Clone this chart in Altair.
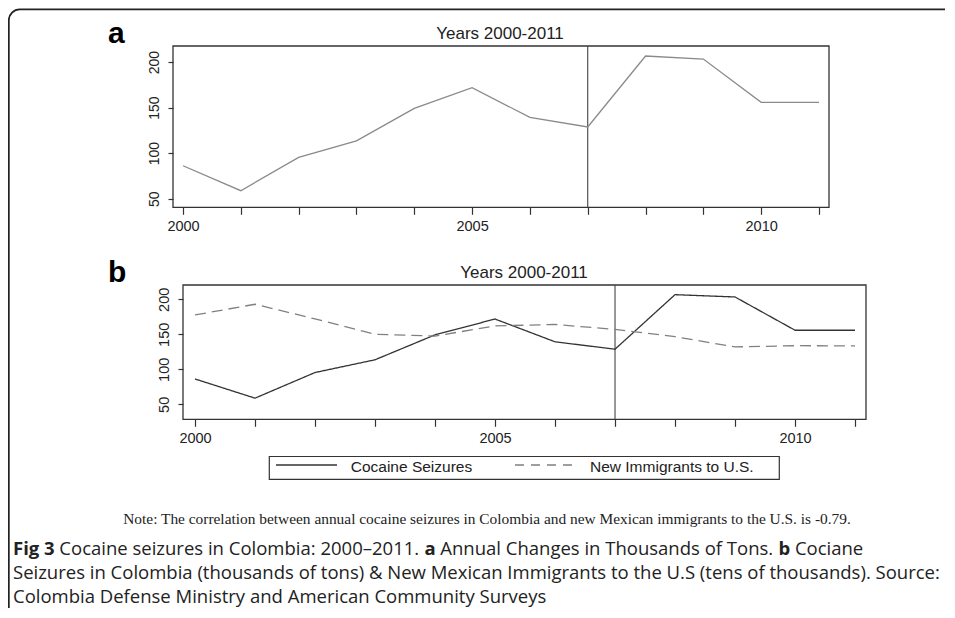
import altair as alt
import pandas as pd

# ---------------- data ----------------
years = [2000, 2001, 2002, 2003, 2004, 2005, 2006, 2007, 2008, 2009, 2010, 2011]
cocaine = [86.2, 58.8, 95.4, 113.6, 149.2, 171.8, 139.3, 128.7, 206.6, 203.3, 155.8, 155.8]
immigrants = [177.6, 192.9, 172.0, 150.0, 147.5, 162.0, 164.0, 157.0, 146.6, 132.0, 133.7, 133.5]
series_names = ["Cocaine Seizures", "New Immigrants to U.S."]
y_tick_values = [50, 100, 150, 200]
break_year = 2007
panel_title = "Years 2000-2011"
panel_letters = ["a", "b"]
note_text = ("Note: The correlation between annual cocaine seizures in Colombia and new "
             "Mexican immigrants to the U.S. is -0.79.")
caption_line1 = [("Fig 3", True), ("Cocaine seizures in Colombia: 2000\u20132011.", False),
                 ("a", True), ("Annual Changes in Thousands of Tons.", False),
                 ("b", True), ("Cociane", False)]
caption_line2 = ("Seizures in Colombia (thousands of tons) & New Mexican Immigrants to the U.S "
                 "(tens of thousands). Source:")
caption_line3 = "Colombia Defense Ministry and American Community Surveys"

# ---------------- layout ----------------
W, H = 937, 600
SANS = "Liberation Sans, Arial, sans-serif"
SERIF = "Liberation Serif, Times New Roman, serif"
CAP = "Open Sans, sans-serif"

XA_DOM, XA_RNG = [1999.827, 2011.173], [165, 821]
YA_DOM, YA_RNG = [40.6, 217.6], [199.3, 38]
XB_DOM, XB_RNG = [1999.8, 2011.183], [175, 858]
YB_DOM, YB_RNG = [28.6, 220.4], [411.3, 277]

df_a = pd.DataFrame({"year": years, "value": cocaine})
df_b = pd.DataFrame({
    "year": years + years,
    "value": cocaine + immigrants,
    "series": [series_names[0]] * len(years) + [series_names[1]] * len(years),
})
one = pd.DataFrame({"k": [0]})


def sc(dom, rng):
    return alt.Scale(domain=dom, range=rng, nice=False, zero=False)


def x_axis(offset, size):
    return alt.Axis(orient="bottom", offset=offset, values=years, format="d",
                    labelExpr="datum.value % 5 === 0 ? datum.label : ''",
                    tickSize=7, tickWidth=1.2, tickColor="#333", domain=False, grid=False,
                    title=None, labelFont=SANS, labelFontSize=size, labelColor="#222",
                    labelPadding=5, labelFlush=False, labelOverlap=False)


def y_axis(offset, size):
    return alt.Axis(orient="left", offset=offset, values=y_tick_values, tickSize=5,
                    tickWidth=1.2, tickColor="#333", domain=False, grid=False, title=None,
                    labelFont=SANS, labelFontSize=size, labelColor="#222", labelAngle=270,
                    labelAlign="center", labelBaseline="bottom", labelPadding=7,
                    labelOverlap=False)


def frame_layers(xdom, xrng, ydom, yrng):
    box = alt.Chart(one).mark_rect(fillOpacity=0, stroke="#333", strokeWidth=1.3).encode(
        x=alt.X(datum=xdom[0], type="quantitative", scale=sc(xdom, xrng), axis=None),
        x2=alt.X2(datum=xdom[1]),
        y=alt.Y(datum=ydom[0], type="quantitative", scale=sc(ydom, yrng), axis=None),
        y2=alt.Y2(datum=ydom[1]),
    )
    rule = alt.Chart(one).mark_rule(color="#444", strokeWidth=1.1).encode(
        x=alt.X(datum=break_year, type="quantitative", scale=sc(xdom, xrng), axis=None),
        y=alt.Y(datum=ydom[0], type="quantitative", scale=sc(ydom, yrng), axis=None),
        y2=alt.Y2(datum=ydom[1]),
    )
    return [box, rule]


line_a = alt.Chart(df_a).mark_line(color="#8a8a8a", strokeWidth=1.3).encode(
    x=alt.X("year:Q", scale=sc(XA_DOM, XA_RNG), axis=x_axis(YA_RNG[0] - H, 14.5)),
    y=alt.Y("value:Q", scale=sc(YA_DOM, YA_RNG), axis=y_axis(-XA_RNG[0], 14)),
)
line_b = alt.Chart(df_b).mark_line(strokeWidth=1.3).encode(
    x=alt.X("year:Q", scale=sc(XB_DOM, XB_RNG), axis=x_axis(YB_RNG[0] - H, 14.5)),
    y=alt.Y("value:Q", scale=sc(YB_DOM, YB_RNG), axis=y_axis(-XB_RNG[0], 14.5)),
    color=alt.Color("series:N", legend=None,
                    scale=alt.Scale(domain=series_names, range=["#333333", "#808080"])),
    strokeDash=alt.StrokeDash("series:N", legend=None,
                              scale=alt.Scale(domain=series_names, range=[[1, 0], [11, 6]])),
)


def text(t, x, y, font=SANS, size=14, weight="normal", align="left", color="#222"):
    return alt.Chart(pd.DataFrame({"t": [t]})).mark_text(
        font=font, fontSize=size, fontWeight=weight, align=align, baseline="alphabetic",
        color=color).encode(text="t:N", x=alt.value(x), y=alt.value(y))


# Open Sans advance widths (units of 1/2048 em), used to place bold runs inside a line
OS_REG = {" ": 532, ".": 545, ":": 545, "\u2013": 1024, "A": 1296, "C": 1292, "F": 1030,
          "T": 1128, "a": 1139, "b": 1255, "c": 975, "d": 1255, "e": 1149, "f": 694,
          "g": 1122, "h": 1257, "i": 518, "l": 518, "m": 1905, "n": 1257, "o": 1237,
          "r": 836, "s": 977, "u": 1257, "z": 977}
OS_BOLD = {" ": 532, "F": 1145, "i": 600, "g": 1151, "a": 1212, "b": 1286}
CAP_SIZE = 18.5


def cap_width(s, bold):
    tab = OS_BOLD if bold else OS_REG
    return sum(tab.get(ch, 1171) for ch in s) / 2048 * CAP_SIZE


layers = []
# outer frame of the figure
layers.append(alt.Chart(one).mark_rect(fillOpacity=0, stroke="#222", strokeWidth=1.8,
                                       cornerRadius=11).encode(
    x=alt.value(0.8), x2=alt.value(1200), y=alt.value(1.3), y2=alt.value(900)))
layers += frame_layers(XA_DOM, XA_RNG, YA_DOM, YA_RNG) + [line_a]
layers += frame_layers(XB_DOM, XB_RNG, YB_DOM, YB_RNG) + [line_b]
layers.append(text(panel_title, 492, 31, size=17, align="center"))
layers.append(text(panel_title, 516, 270, size=17, align="center"))
layers.append(text(panel_letters[0], 100, 35, size=30, weight="bold", color="#000"))
layers.append(text(panel_letters[1], 100, 274, size=30, weight="bold", color="#000"))

# legend
layers.append(alt.Chart(one).mark_rect(fillOpacity=0, stroke="#333", strokeWidth=1.2).encode(
    x=alt.value(261.3), x2=alt.value(771.3), y=alt.value(448.5), y2=alt.value(471.3)))
layers.append(alt.Chart(one).mark_rule(color="#333", strokeWidth=1.3).encode(
    x=alt.value(268), x2=alt.value(329), y=alt.value(457)))
layers.append(alt.Chart(one).mark_rule(color="#808080", strokeWidth=1.3, strokeDash=[9, 7]).encode(
    x=alt.value(507), x2=alt.value(570), y=alt.value(457)))
layers.append(text(series_names[0], 342.7, 463.5, size=15.5, color="#222"))
layers.append(text(series_names[1], 582, 463.5, size=15.5, color="#222"))

# note
layers.append(text(note_text, 479, 516, font=SERIF, size=15.4, align="center", color="#222"))

# caption
CAP_Y = [547, 571, 594.5]
cx = 5
for seg, bold in caption_line1:
    layers.append(text(seg, cx, CAP_Y[0], font=CAP, size=CAP_SIZE,
                       weight="bold" if bold else "normal", color="#222"))
    cx += cap_width(seg, bold) + cap_width(" ", False)
layers.append(text(caption_line2, 5, CAP_Y[1], font=CAP, size=CAP_SIZE, color="#222"))
layers.append(text(caption_line3, 5, CAP_Y[2], font=CAP, size=CAP_SIZE, color="#222"))

chart = alt.layer(*layers).resolve_scale(
    x="independent", y="independent"
).resolve_axis(
    x="independent", y="independent"
).properties(
    width=W, height=H, padding=0, autosize=alt.AutoSizeParams(type="none"),
    background="white",
).configure_view(stroke=None)

chart.save("out.html", embed_options={"renderer": "svg", "actions": False})
